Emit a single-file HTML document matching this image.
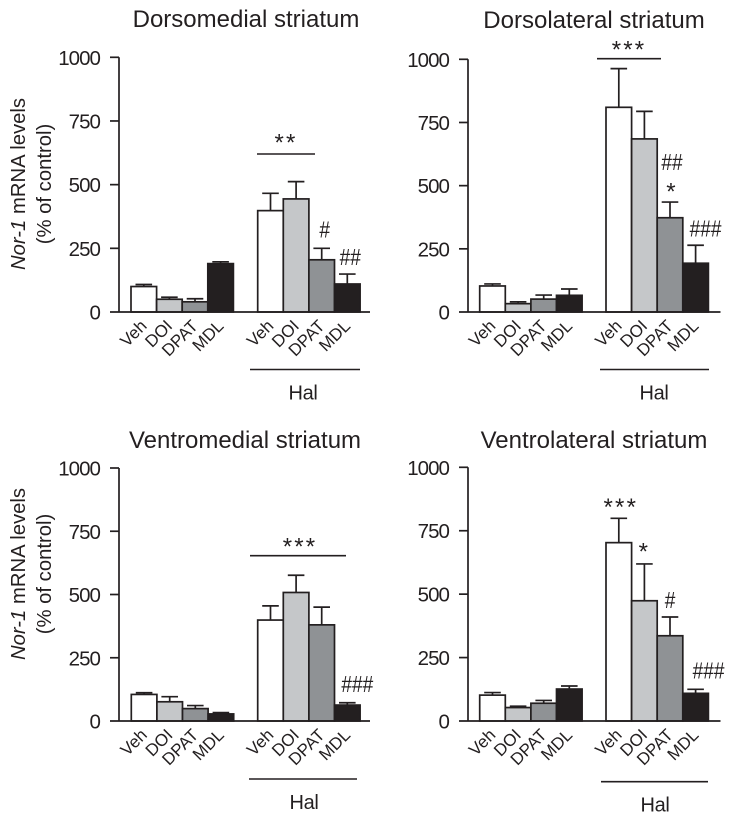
<!DOCTYPE html>
<html>
<head>
<meta charset="utf-8">
<style>
html,body{margin:0;padding:0;background:#fff;width:737px;height:821px;overflow:hidden}
svg{display:block}
text{font-family:"Liberation Sans",sans-serif;fill:#231f20}
</style>
</head>
<body>
<svg id="figure" width="737" height="821" viewBox="0 0 737 821" xmlns="http://www.w3.org/2000/svg"></svg>
<script>
// ---- data ----
const categories = ["Veh", "DOI", "DPAT", "MDL", "Veh", "DOI", "DPAT", "MDL"];
const yTicks = [0, 250, 500, 750, 1000];
const groupLabel = "Hal";

const titleDM = "Dorsomedial striatum";
const meansDM = [100, 50, 40, 190, 398, 444, 205, 110];
const errTopsDM = [108, 58, 52, 197, 466, 512, 250, 149];
const marksDM = ["#", "##"];

const titleDL = "Dorsolateral striatum";
const meansDL = [103, 33, 51, 66, 810, 685, 373, 193];
const errTopsDL = [111, 40, 67, 91, 963, 794, 435, 264];
const marksDL = ["##", "*", "###"];

const titleVM = "Ventromedial striatum";
const meansVM = [105, 76, 49, 28, 399, 508, 380, 63];
const errTopsVM = [112, 96, 61, 33, 455, 576, 450, 72];
const marksVM = ["###"];

const titleVL = "Ventrolateral striatum";
const meansVL = [102, 53, 70, 126, 703, 474, 336, 109];
const errTopsVL = [112, 58, 81, 138, 799, 619, 410, 125];
const marksVL = ["***", "*", "#", "###"];

const spanLabelDM = "**";
const spanLabelDL = "***";
const spanLabelVM = "***";

// ---- drawing ----
const svg = document.getElementById('figure');
const NS = 'http://www.w3.org/2000/svg';
const fills = ['#ffffff', '#c5c7c9', '#8f9295', '#231f20'];
const ink = '#231f20';

function mk(tag, attrs, parent) {
  const el = document.createElementNS(NS, tag);
  for (const k in attrs) el.setAttribute(k, attrs[k]);
  parent.appendChild(el);
  return el;
}
function line(x1, y1, x2, y2, w, parent) {
  return mk('line', {x1: x1, y1: y1, x2: x2, y2: y2, stroke: ink, 'stroke-width': w}, parent);
}
function markText(str, x, centerY, parent) {
  const isStar = str.indexOf('*') >= 0;
  const t = mk('text', {
    'text-anchor': 'middle',
    'font-size': isStar ? 24 : 23,
    'letter-spacing': isStar ? 2.2 : 0,
    transform: isStar
      ? 'translate(' + x + ',' + (centerY + 13.5) + ')'
      : 'translate(' + x + ',' + (centerY + 8) + ') scale(0.83,1)'
  }, parent);
  t.textContent = str;
  return t;
}

function drawPanel(p) {
  const g = mk('g', {}, svg);
  
  

  const y = v => p.zeroY - (v / 1000) * (p.zeroY - p.topY);
  const barW = 25.6;
  const barX = i => (i < 4 ? p.startA + i * barW : p.startB + (i - 4) * barW);
  const barC = i => barX(i) + barW / 2;

  const title = mk('text', {x: p.titleX, y: p.titleY, 'text-anchor': 'middle', 'font-size': 24}, g);
  
  
  title.textContent = p.title;

  p.means.forEach(function (m, i) {
    const eb = mk('g', {}, g);
    
    
    line(barC(i), y(m), barC(i), y(p.errs[i]), 1.7, eb);
    line(barC(i) - 8.3, y(p.errs[i]), barC(i) + 8.3, y(p.errs[i]), 1.7, eb);

    const bar = mk('rect', {
      x: barX(i), y: y(m), width: barW, height: y(0) - y(m),
      fill: fills[i % 4], stroke: ink, 'stroke-width': 1.7
    }, g);
    
    

    const lab = mk('text', {
      'text-anchor': 'end', 'font-size': 17,
      transform: 'translate(' + (barC(i) + 4) + ',' + (p.zeroY + 15) + ') rotate(-45)'
    }, g);
    
    
    lab.textContent = categories[i];
  });

  const yAxis = line(p.axisX, y(1000), p.axisX, y(0), 1.7, g);
  
  
  const xAxis = line(p.axisX - 9, y(0), p.axisEnd, y(0), 1.7, g);
  
  

  yTicks.forEach(function (v) {
    if (v > 0) {
      const tick = line(p.axisX - 9, y(v), p.axisX, y(v), 1.7, g);
      
      
    }
    const t = mk('text', {x: p.axisX - 19, y: y(v) + 7.5, 'text-anchor': 'end', 'font-size': 20.5, 'letter-spacing': -0.95}, g);
    
    
    t.textContent = v;
  });

  const hal = line(p.halX1, p.halY, p.halX2, p.halY, 1.6, g);
  
  
  const halT = mk('text', {x: (p.halTextX), y: p.halY + 30, 'text-anchor': 'middle', 'font-size': 20, 'letter-spacing': -0.3}, g);
  
  
  halT.textContent = groupLabel;

  if (p.span) {
    const sl = line(p.span.x1, p.span.y, p.span.x2, p.span.y, 1.6, g);
    
    
    const st = markText(p.span.label, p.span.cx, p.span.cy, g);
    
    
  }

  p.marks.forEach(function (str, k) {
    const pl = p.markPlaces[k];
    const cy = y(p.errs[pl.bar]) - pl.gap;
    const t = markText(str, barC(pl.bar) + pl.dx, cy, g);
    
    
  });

  if (p.yLabelX) {
    const yl = mk('text', {
      'text-anchor': 'middle', 'font-size': 20.3,
      transform: 'translate(' + p.yLabelX + ',' + p.yLabelY + ') rotate(-90)'
    }, g);
    
    
    const it = mk('tspan', {'font-style': 'italic'}, yl);
    it.textContent = 'Nor-1';
    const rest = mk('tspan', {}, yl);
    rest.textContent = ' mRNA levels';
    const yl2 = mk('text', {
      'text-anchor': 'middle', 'font-size': 20.3,
      transform: 'translate(' + (p.yLabelX + 26) + ',' + p.yLabelY + ') rotate(-90)'
    }, g);
    
    
    yl2.textContent = '(% of control)';
  }
}

drawPanel({
  name: 'panel-dorsomedial', title: titleDM, means: meansDM, errs: errTopsDM, marks: marksDM,
  titleX: 246, titleY: 27, axisX: 119, axisEnd: 370, topY: 57.3, zeroY: 312,
  startA: 131, startB: 257.7, halX1: 250, halX2: 360, halY: 369.5, halTextX: 303,
  yLabelX: 25, yLabelY: 184,
  span: {x1: 257, x2: 315, y: 154, cx: 286, cy: 137, label: spanLabelDM},
  markPlaces: [{bar: 6, dx: 3, gap: 19}, {bar: 7, dx: 3, gap: 17}]
});
drawPanel({
  name: 'panel-dorsolateral', title: titleDL, means: meansDL, errs: errTopsDL, marks: marksDL,
  titleX: 594, titleY: 28, axisX: 468, axisEnd: 720.5, topY: 59.3, zeroY: 312,
  startA: 479.7, startB: 606, halX1: 600, halX2: 709, halY: 369.5, halTextX: 654,
  span: {x1: 597, x2: 661, y: 58.7, cx: 629, cy: 44, label: spanLabelDL},
  markPlaces: [{bar: 6, dx: 2, gap: 40}, {bar: 6, dx: 2, gap: 16}, {bar: 7, dx: 10, gap: 17}]
});
drawPanel({
  name: 'panel-ventromedial', title: titleVM, means: meansVM, errs: errTopsVM, marks: marksVM,
  titleX: 245, titleY: 448, axisX: 119, axisEnd: 370, topY: 468, zeroY: 721,
  startA: 131.3, startB: 257.7, halX1: 249, halX2: 357, halY: 779, halTextX: 304,
  yLabelX: 25, yLabelY: 574,
  span: {x1: 250, x2: 346, y: 555.7, cx: 300, cy: 541, label: spanLabelVM},
  markPlaces: [{bar: 7, dx: 10, gap: 19}]
});
drawPanel({
  name: 'panel-ventrolateral', title: titleVL, means: meansVL, errs: errTopsVL, marks: marksVL,
  titleX: 594, titleY: 448, axisX: 468, axisEnd: 720.5, topY: 467.3, zeroY: 721,
  startA: 479.7, startB: 606, halX1: 601, halX2: 708, halY: 781.7, halTextX: 655,
  markPlaces: [{bar: 4, dx: 2, gap: 17}, {bar: 5, dx: 0, gap: 18}, {bar: 6, dx: 0, gap: 17}, {bar: 7, dx: 13, gap: 19}]
});
</script>
</body>
</html>
